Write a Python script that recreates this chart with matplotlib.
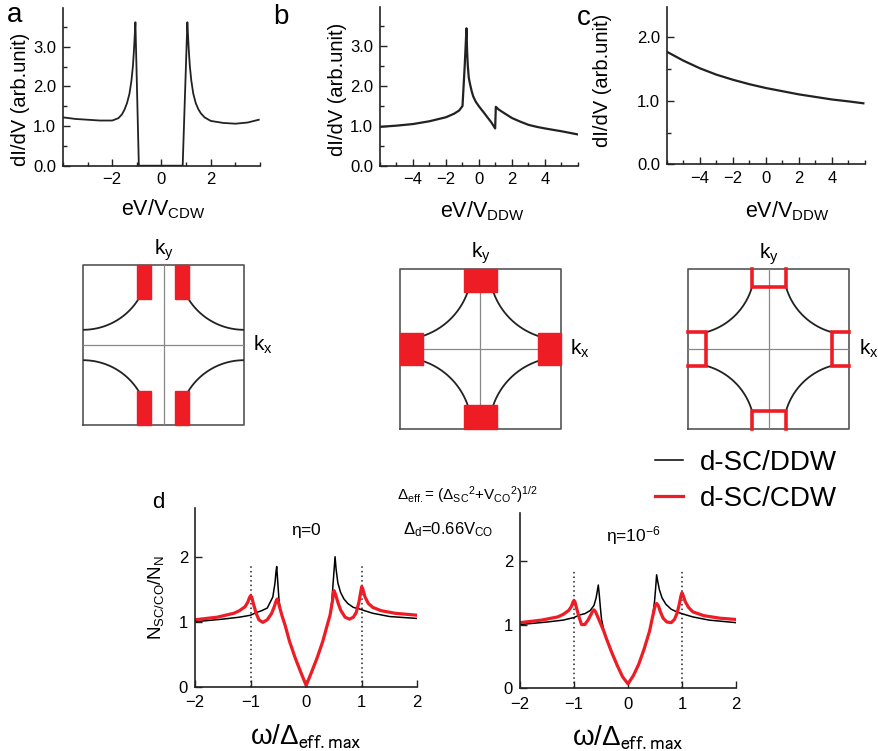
import numpy as np
import matplotlib
matplotlib.use('Agg')
import matplotlib.pyplot as plt
from matplotlib.ticker import MultipleLocator, FixedLocator

plt.rcParams['font.family'] = ['Liberation Sans', 'DejaVu Sans']
plt.rcParams['mathtext.fontset'] = 'custom'
plt.rcParams['mathtext.rm'] = 'Liberation Sans'
plt.rcParams['mathtext.it'] = 'Liberation Sans:italic'
plt.rcParams['mathtext.bf'] = 'Liberation Sans:bold'
plt.rcParams['mathtext.sf'] = 'Liberation Sans'
plt.rcParams['mathtext.default'] = 'regular'

# ---- panel a: dI/dV vs eV/V_CDW
a_x = [-4.0, -3.5, -3.0, -2.5, -2.0, -1.75, -1.6, -1.5, -1.4, -1.3, -1.22, -1.16, -1.12, -1.09, -1.06, -0.92,
       0.86, 1.05, 1.08, 1.11, 1.15, 1.21, 1.29, 1.39, 1.5, 1.6, 1.75, 2.0, 2.5, 3.0, 3.5, 3.95]
a_y = [1.22, 1.18, 1.16, 1.14, 1.14, 1.2, 1.3, 1.42, 1.58, 1.82, 2.15, 2.52, 2.9, 3.25, 3.62, 0.0,
       0.0, 3.62, 3.25, 2.9, 2.52, 2.15, 1.82, 1.58, 1.42, 1.32, 1.22, 1.13, 1.08, 1.06, 1.09, 1.16]

# ---- panel b: dI/dV vs eV/V_DDW
b_x = [-6, -5, -4, -3, -2, -1.5, -1.2, -1.0, -0.87, -0.76, -0.72, -0.68, -0.62, -0.55, -0.45, -0.35, -0.2,
       0, 0.25, 0.47, 0.75, 0.98, 1.02, 1.2, 1.5, 2, 2.5, 3, 3.5, 4, 5, 6]
b_y = [0.97, 1.0, 1.04, 1.11, 1.21, 1.3, 1.38, 1.49, 2.46, 3.43, 2.85, 2.5, 2.2, 2.05, 1.87, 1.73, 1.6,
       1.48, 1.35, 1.23, 1.08, 0.93, 1.47, 1.4, 1.32, 1.19, 1.1, 1.02, 0.97, 0.93, 0.86, 0.78]

# ---- panel c
c_x = [-6, -5, -4, -3, -2, -1, 0, 1, 2, 3, 4, 5, 5.9]
c_y = [1.77, 1.63, 1.51, 1.41, 1.33, 1.26, 1.2, 1.15, 1.10, 1.06, 1.02, 0.99, 0.96]

# ---- panel d, eta = 0
d0_ddw_x = [-2, -1.5, -1.2, -1.0, -0.9, -0.8, -0.7, -0.6, -0.56, -0.545, -0.53, -0.51, -0.49, -0.47,
            -0.43, -0.38, -0.3, -0.2, -0.1, 0, 0.1, 0.2, 0.3, 0.38, 0.43, 0.46, 0.49, 0.52,
            0.54, 0.57, 0.62, 0.68, 0.75, 0.85, 0.95, 1.05, 1.2, 1.5, 2]
d0_ddw_y = [1.0, 1.04, 1.07, 1.1, 1.14, 1.17, 1.21, 1.38, 1.6, 1.75, 1.85, 1.6, 1.35, 1.2,
            1.08, 0.95, 0.7, 0.45, 0.23, 0.02, 0.23, 0.45, 0.7, 0.95, 1.1, 1.3, 1.65, 2.0,
            1.8, 1.6, 1.45, 1.35, 1.28, 1.22, 1.2, 1.17, 1.13, 1.08, 1.05]
d0_cdw_x = [-2, -1.6, -1.3, -1.2, -1.1, -1.05, -1.02, -1.0, -0.98, -0.95, -0.9, -0.85, -0.78, -0.7,
            -0.62, -0.57, -0.54, -0.52, -0.5, -0.47, -0.43, -0.38, -0.3, -0.2, -0.1, 0, 0.1, 0.2,
            0.3, 0.38, 0.43, 0.47, 0.5, 0.53, 0.57, 0.62, 0.7, 0.78, 0.85, 0.9, 0.95, 0.98, 1.0,
            1.02, 1.06, 1.12, 1.2, 1.35, 1.6, 2]
d0_cdw_y = [1.03, 1.07, 1.13, 1.17, 1.23, 1.3, 1.37, 1.4, 1.38, 1.28, 1.13, 1.03, 0.99, 1.03,
            1.13, 1.24, 1.32, 1.35, 1.3, 1.2, 1.08, 0.95, 0.7, 0.45, 0.23, 0.02, 0.23, 0.45,
            0.7, 0.95, 1.1, 1.3, 1.48, 1.42, 1.3, 1.18, 1.07, 1.04, 1.07, 1.14, 1.3, 1.45, 1.54,
            1.5, 1.38, 1.28, 1.22, 1.17, 1.13, 1.1]

# ---- panel d, eta = 1e-6
d6_ddw_x = [-2, -1.5, -1.2, -1.0, -0.9, -0.8, -0.7, -0.63, -0.59, -0.57, -0.55, -0.53, -0.51, -0.49,
            -0.45, -0.4, -0.3, -0.2, -0.1, 0, 0.1, 0.2, 0.3, 0.4, 0.45, 0.49, 0.51, 0.53,
            0.55, 0.58, 0.63, 0.7, 0.8, 0.9, 1.0, 1.2, 1.5, 2]
d6_ddw_y = [1.0, 1.04, 1.07, 1.11, 1.15, 1.17, 1.22, 1.3, 1.42, 1.52, 1.62, 1.45, 1.25, 1.08,
            0.92, 0.78, 0.56, 0.36, 0.18, 0.07, 0.2, 0.38, 0.62, 0.9, 1.1, 1.35, 1.55, 1.78,
            1.68, 1.55, 1.42, 1.32, 1.24, 1.2, 1.17, 1.12, 1.07, 1.03]
d6_cdw_x = [-2, -1.6, -1.3, -1.2, -1.1, -1.05, -1.02, -1.0, -0.98, -0.95, -0.9, -0.86, -0.8, -0.74,
            -0.69, -0.66, -0.63, -0.6, -0.56, -0.5, -0.45, -0.4, -0.3, -0.2, -0.1, 0, 0.1, 0.2,
            0.3, 0.4, 0.45, 0.49, 0.51, 0.53, 0.56, 0.6, 0.65, 0.72, 0.8, 0.86, 0.91, 0.95, 0.98,
            1.0, 1.02, 1.06, 1.12, 1.2, 1.4, 1.7, 2]
d6_cdw_y = [1.03, 1.07, 1.12, 1.16, 1.22, 1.28, 1.35, 1.38, 1.35, 1.25, 1.1, 1.0, 1.0, 1.07,
            1.15, 1.2, 1.23, 1.2, 1.12, 1.0, 0.9, 0.78, 0.56, 0.36, 0.18, 0.07, 0.2, 0.38,
            0.62, 0.9, 1.1, 1.25, 1.31, 1.33, 1.3, 1.2, 1.1, 1.04, 1.03, 1.08, 1.18, 1.32, 1.45,
            1.5, 1.46, 1.36, 1.27, 1.2, 1.14, 1.1, 1.08]
gap_edges = [-1, 1]

# ---- Brillouin zone sketches (kx, ky in units of the zone half width)
bz_radius = [0.81, 0.89, 0.82]
bz1_patches = [(-0.33, 0.58, 0.18, 0.42), (0.14, 0.58, 0.18, 0.42),
               (-0.33, -1.0, 0.18, 0.42), (0.14, -1.0, 0.18, 0.42)]
bz2_patches = [(-0.2, 0.71, 0.4, 0.29), (-0.2, -1.0, 0.4, 0.29),
               (-1.0, -0.2, 0.29, 0.4), (0.71, -0.2, 0.29, 0.4)]
bz3_half, bz3_depth = 0.21, 0.78

W, H = 879, 751
fig = plt.figure(figsize=(W / 100, H / 100), dpi=100)


def px_axes(l, t, r, b):
    return fig.add_axes([l / W, 1 - b / H, (r - l) / W, (b - t) / H])


def style(ax, size=12, xpad=4.5, ypad=5):
    for s in ['top', 'right']:
        ax.spines[s].set_visible(False)
    for s in ['left', 'bottom']:
        ax.spines[s].set_linewidth(1.2)
        ax.spines[s].set_color('#222222')
    ax.tick_params(which='both', direction='in', color='#222222', labelsize=size)
    ax.tick_params(axis='x', which='both', pad=xpad)
    ax.tick_params(axis='y', which='both', pad=ypad)
    ax.tick_params(which='major', length=5, width=1)
    ax.tick_params(which='minor', length=3, width=1)


# top spectra
ax_a = px_axes(63, 8, 260, 165.7)
ax_a.plot(a_x, a_y, color='#222222', lw=1.3)
ax_a.set_xlim(-4, 4)
ax_a.set_ylim(0, 3.98)
ax_a.xaxis.set_major_locator(FixedLocator([-2, 0, 2]))
ax_a.xaxis.set_minor_locator(MultipleLocator(1))
ax_a.yaxis.set_major_locator(MultipleLocator(1))
ax_a.yaxis.set_minor_locator(MultipleLocator(0.5))
ax_a.yaxis.set_major_formatter('{x:.1f}')
style(ax_a)
ax_a.set_xlabel('eV/V$_{CDW}$', fontsize=15.5)
ax_a.set_ylabel('dI/dV (arb.unit)', fontsize=14.5)
ax_a.xaxis.set_label_coords(0.508, -0.2)
ax_a.yaxis.set_label_coords(-0.165, 0.42)

ax_b = px_axes(380, 6.7, 578, 165.7)
ax_b.plot(b_x, b_y, color='#222222', lw=1.6)
ax_b.set_xlim(-6, 6)
ax_b.set_ylim(0, 3.97)
ax_b.xaxis.set_major_locator(FixedLocator([-4, -2, 0, 2, 4]))
ax_b.xaxis.set_minor_locator(MultipleLocator(1))
ax_b.yaxis.set_major_locator(MultipleLocator(1))
ax_b.yaxis.set_minor_locator(MultipleLocator(0.5))
ax_b.yaxis.set_major_formatter('{x:.1f}')
style(ax_b)
ax_b.set_xlabel('eV/V$_{DDW}$', fontsize=15.5)
ax_b.set_ylabel('dI/dV (arb.unit)', fontsize=14.5)
ax_b.xaxis.set_label_coords(0.515, -0.21)
ax_b.yaxis.set_label_coords(-0.165, 0.48)

ax_c = px_axes(667, 6.7, 865, 164.3)
ax_c.plot(c_x, c_y, color='#222222', lw=1.6)
ax_c.set_xlim(-6, 6)
ax_c.set_ylim(0, 2.48)
ax_c.xaxis.set_major_locator(FixedLocator([-4, -2, 0, 2, 4]))
ax_c.xaxis.set_minor_locator(MultipleLocator(1))
ax_c.yaxis.set_major_locator(MultipleLocator(1))
ax_c.yaxis.set_minor_locator(MultipleLocator(0.5))
ax_c.yaxis.set_major_formatter('{x:.1f}')
style(ax_c)
ax_c.set_xlabel('eV/V$_{DDW}$', fontsize=15.5)
ax_c.set_ylabel('dI/dV (arb.unit)', fontsize=14.5)
ax_c.xaxis.set_label_coords(0.606, -0.22)
ax_c.yaxis.set_label_coords(-0.28, 0.53)

for txt, x, y in [('a', 15, 15), ('b', 281, 17), ('c', 584, 18)]:
    fig.text(x / W, 1 - y / H, txt, fontsize=20, ha='center', va='center')


# Brillouin zone sketches
def bz_axes(l, t):
    ax = px_axes(l, t, l + 161, t + 160)
    ax.set_xlim(-1, 1)
    ax.set_ylim(-1, 1)
    ax.axis('off')
    ax.plot([-1, 1, 1, -1, -1], [-1, -1, 1, 1, -1], color='#555555', lw=1.2, clip_on=False)
    ax.plot([0, 0], [-1, 1], color='#888888', lw=0.9)
    ax.plot([-1, 1], [0, 0], color='#888888', lw=0.9)
    ax.text(0, 1.19, 'k$_y$', fontsize=15, ha='center', va='center')
    ax.text(1.24, 0.0, 'k$_x$', fontsize=15, ha='center', va='center')
    return ax


def corner_arcs(ax, r, t0=0.0, t1=np.pi / 2):
    t = np.linspace(t0, t1, 60)
    for sx in (-1, 1):
        for sy in (-1, 1):
            ax.plot(sx - sx * r * np.cos(t), sy - sy * r * np.sin(t), color='#222222', lw=1.3)


ax1 = bz_axes(83, 265)
corner_arcs(ax1, bz_radius[0])
for x0, y0, w, h in bz1_patches:
    ax1.add_patch(plt.Rectangle((x0, y0), w, h, color='#ee1c25', zorder=3, clip_on=False))

ax2 = bz_axes(400, 268.5)
corner_arcs(ax2, bz_radius[1])
for x0, y0, w, h in bz2_patches:
    ax2.add_patch(plt.Rectangle((x0, y0), w, h, color='#ee1c25', zorder=3, clip_on=False))

ax3 = bz_axes(688.5, 269)
gap = 1 - bz3_depth
corner_arcs(ax3, bz_radius[2], np.arcsin(gap / bz_radius[2]), np.arccos(gap / bz_radius[2]))
u = [-bz3_half, -bz3_half, bz3_half, bz3_half]
v = [1, bz3_depth, bz3_depth, 1]
for px, py in [(u, v), (u, [-q for q in v]), (v, u), ([-q for q in v], u)]:
    ax3.plot(px, py, color='#ee1c25', lw=2.6, zorder=3, solid_joinstyle='miter', clip_on=False)


# panel d
def dos_axes(ax, ddw_x, ddw_y, cdw_x, cdw_y, label, lx):
    ax.vlines(gap_edges, 0, 1.87, colors='#222222', linestyles=(0, (1, 2)), lw=1.1)
    l1, = ax.plot(ddw_x, ddw_y, color='black', lw=1.1, label='d-SC/DDW')
    l2, = ax.plot(cdw_x, cdw_y, color='#ee1c25', lw=2.3, label='d-SC/CDW')
    ax.set_xlim(-2, 2)
    ax.set_ylim(0, 2.75)
    ax.xaxis.set_major_locator(MultipleLocator(1))
    ax.yaxis.set_major_locator(FixedLocator([0, 1, 2]))
    style(ax, 12, xpad=6, ypad=5)
    ax.set_xlabel(r'$\omega/\Delta_{\mathsf{eff.max}}$', fontsize=20, math_fontfamily='stix')
    ax.xaxis.set_label_coords(0.5, -0.2)
    ax.text(lx, 2.4, label, fontsize=12.5, ha='center', va='center', math_fontfamily='stix')
    return l1, l2


axd1 = px_axes(195, 508, 417.3, 686.7)
h1, h2 = dos_axes(axd1, d0_ddw_x, d0_ddw_y, d0_cdw_x, d0_cdw_y, r'$\eta$=0', 0.0)
axd1.set_ylabel('N$_{SC/CO}$/N$_{N}$', fontsize=13.5)
axd1.yaxis.set_label_coords(-0.13, 0.5)

axd2 = px_axes(520, 513, 736, 688.3)
dos_axes(axd2, d6_ddw_x, d6_ddw_y, d6_cdw_x, d6_cdw_y, r'$\eta$=10$^{-6}$', 0.1)

fig.text(158 / W, 1 - 502 / H, 'd', fontsize=16, ha='center', va='center')
fig.text(397 / W, 1 - 495 / H, 'Δ$_{eff.}$= (Δ$_{SC}$$^{2}$+V$_{CO}$$^{2}$)$^{1/2}$',
         fontsize=11, ha='left', va='center')
fig.text(403 / W, 1 - 530 / H, 'Δ$_{d}$=0.66V$_{CO}$', fontsize=12, ha='left', va='center')

fig.legend([h1, h2], ['d-SC/DDW', 'd-SC/CDW'], loc='upper left',
           bbox_to_anchor=(655 / W, 1 - 450 / H), frameon=False, fontsize=20,
           handlelength=1.0, handletextpad=0.6, labelspacing=0.35, borderpad=0, borderaxespad=0)

fig.savefig('out.png', dpi=100)
